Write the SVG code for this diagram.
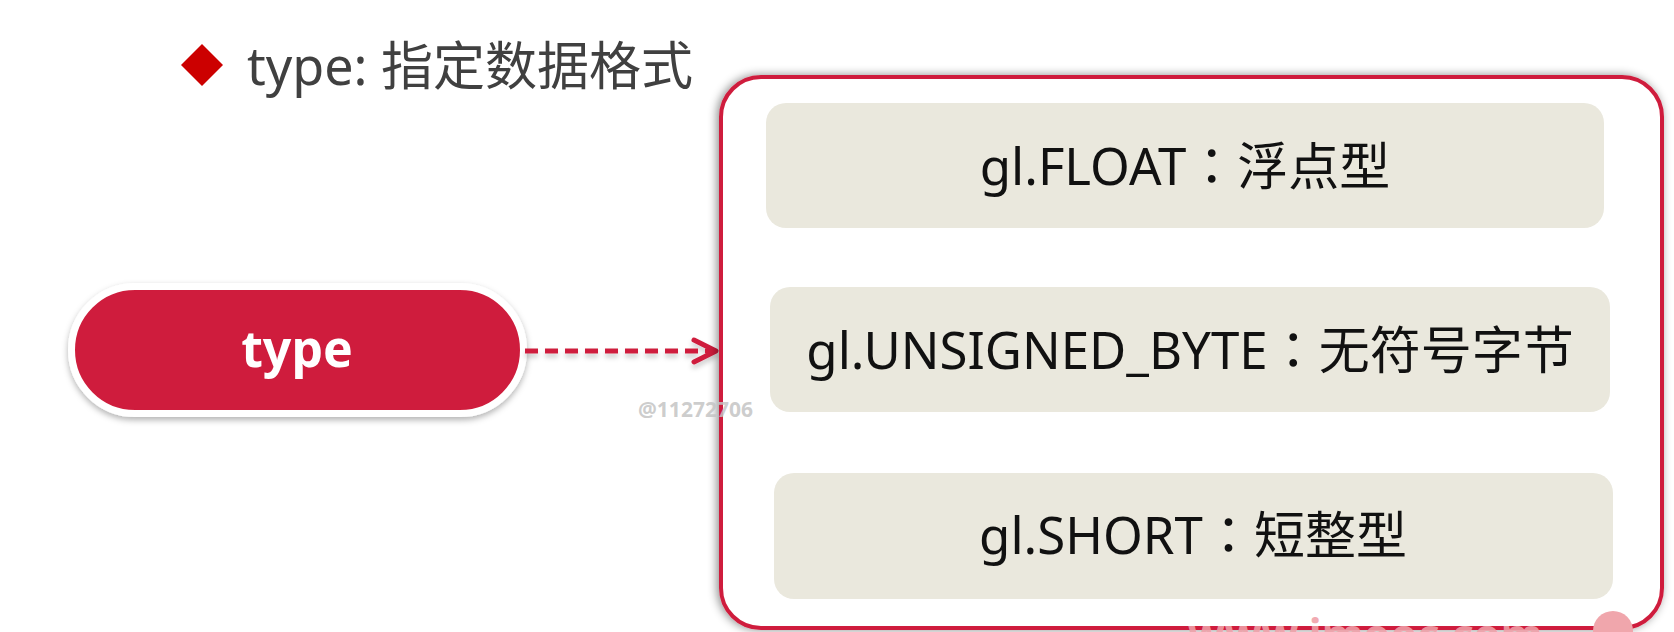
<svg xmlns="http://www.w3.org/2000/svg" width="1674" height="632" viewBox="0 0 1674 632">
  <style>
    .title { font-family: "Noto Sans", "Noto Sans CJK SC", sans-serif; font-size: 52px; fill: #404040; }
    .item { font-family: "Noto Sans", "Noto Sans CJK SC", sans-serif; font-size: 51px; fill: #111111; text-anchor: middle; }
    .colon { font-family: "Noto Sans CJK TC", "Noto Sans CJK SC", sans-serif; }
    .pilltext { font-family: "Noto Sans", "Noto Sans CJK SC", sans-serif; font-size: 50px; font-weight: bold; fill: #ffffff; text-anchor: middle; }
    .box { fill: #EAE8DD; }
    .wm { font-family: "Noto Sans", "Liberation Sans", sans-serif; font-weight: bold; }
  </style>
  <defs>
    <filter id="sh" x="-20%" y="-20%" width="140%" height="150%">
      <feDropShadow dx="0" dy="3" stdDeviation="3" flood-color="#000" flood-opacity="0.3"/>
    </filter>
    <filter id="shc" x="-5%" y="-5%" width="110%" height="110%">
      <feDropShadow dx="-2" dy="0" stdDeviation="5" flood-color="#000" flood-opacity="0.45"/>
    </filter>
    <filter id="sha" filterUnits="userSpaceOnUse" x="500" y="320" width="240" height="70">
      <feDropShadow dx="0" dy="4" stdDeviation="2.5" flood-color="#000" flood-opacity="0.2"/>
    </filter>
    <marker id="arr" markerUnits="userSpaceOnUse" markerWidth="40" markerHeight="40" refX="24" refY="13" orient="auto" overflow="visible">
      <path d="M2,2 L24,13 L2,24" fill="none" stroke="#CF1F3D" stroke-width="5" stroke-linecap="round" stroke-linejoin="round"/>
    </marker>
  </defs>
  <rect width="1674" height="632" fill="#ffffff"/>

  <g id="title">
    <polygon points="202,44 223,65 202,86 181,65" fill="#CC0000"/>
    <text class="title" x="247" y="85">type: 指定数据格式</text>
  </g>

  <g id="node-type">
    <rect x="71.5" y="286.5" width="452" height="127" rx="63.5" fill="#CF1F3D" stroke="#ffffff" stroke-width="7" filter="url(#sh)"/>
    <text class="pilltext" x="297" y="367">type</text>
  </g>

  <g id="connectors" filter="url(#sha)">
    <line x1="525" y1="351" x2="716" y2="351" stroke="#CF1F3D" stroke-width="5" stroke-dasharray="13 7" marker-end="url(#arr)"/>
  </g>

  <g id="node-container">
    <rect x="721" y="77" width="941" height="551" rx="40" fill="#ffffff" stroke="#CF1F3D" stroke-width="4" filter="url(#shc)"/>
  </g>

  <g id="node-float">
    <rect class="box" x="766" y="103" width="838" height="125" rx="20"/>
    <text class="item" x="1185" y="185">gl.FLOAT<tspan class="colon">：</tspan>浮点型</text>
  </g>

  <g id="node-ubyte">
    <rect class="box" x="770" y="287" width="840" height="125" rx="20"/>
    <text class="item" x="1190" y="369">gl.UNSIGNED_BYTE<tspan class="colon">：</tspan>无符号字节</text>
  </g>

  <g id="node-short">
    <rect class="box" x="774" y="473" width="839" height="126" rx="20"/>
    <text class="item" x="1193" y="554">gl.SHORT<tspan class="colon">：</tspan>短整型</text>
  </g>

  <g id="watermarks">
    <text class="wm" x="638" y="417" font-size="21" fill="#c4c4c4" fill-opacity="0.85">@11272706</text>
    <text class="wm" x="1188" y="650" font-size="43" fill="#F0A0A8" fill-opacity="0.9">www.imooc.com</text>
    <circle cx="1613" cy="631" r="20" fill="#F0A6AC"/>
  </g>
</svg>
